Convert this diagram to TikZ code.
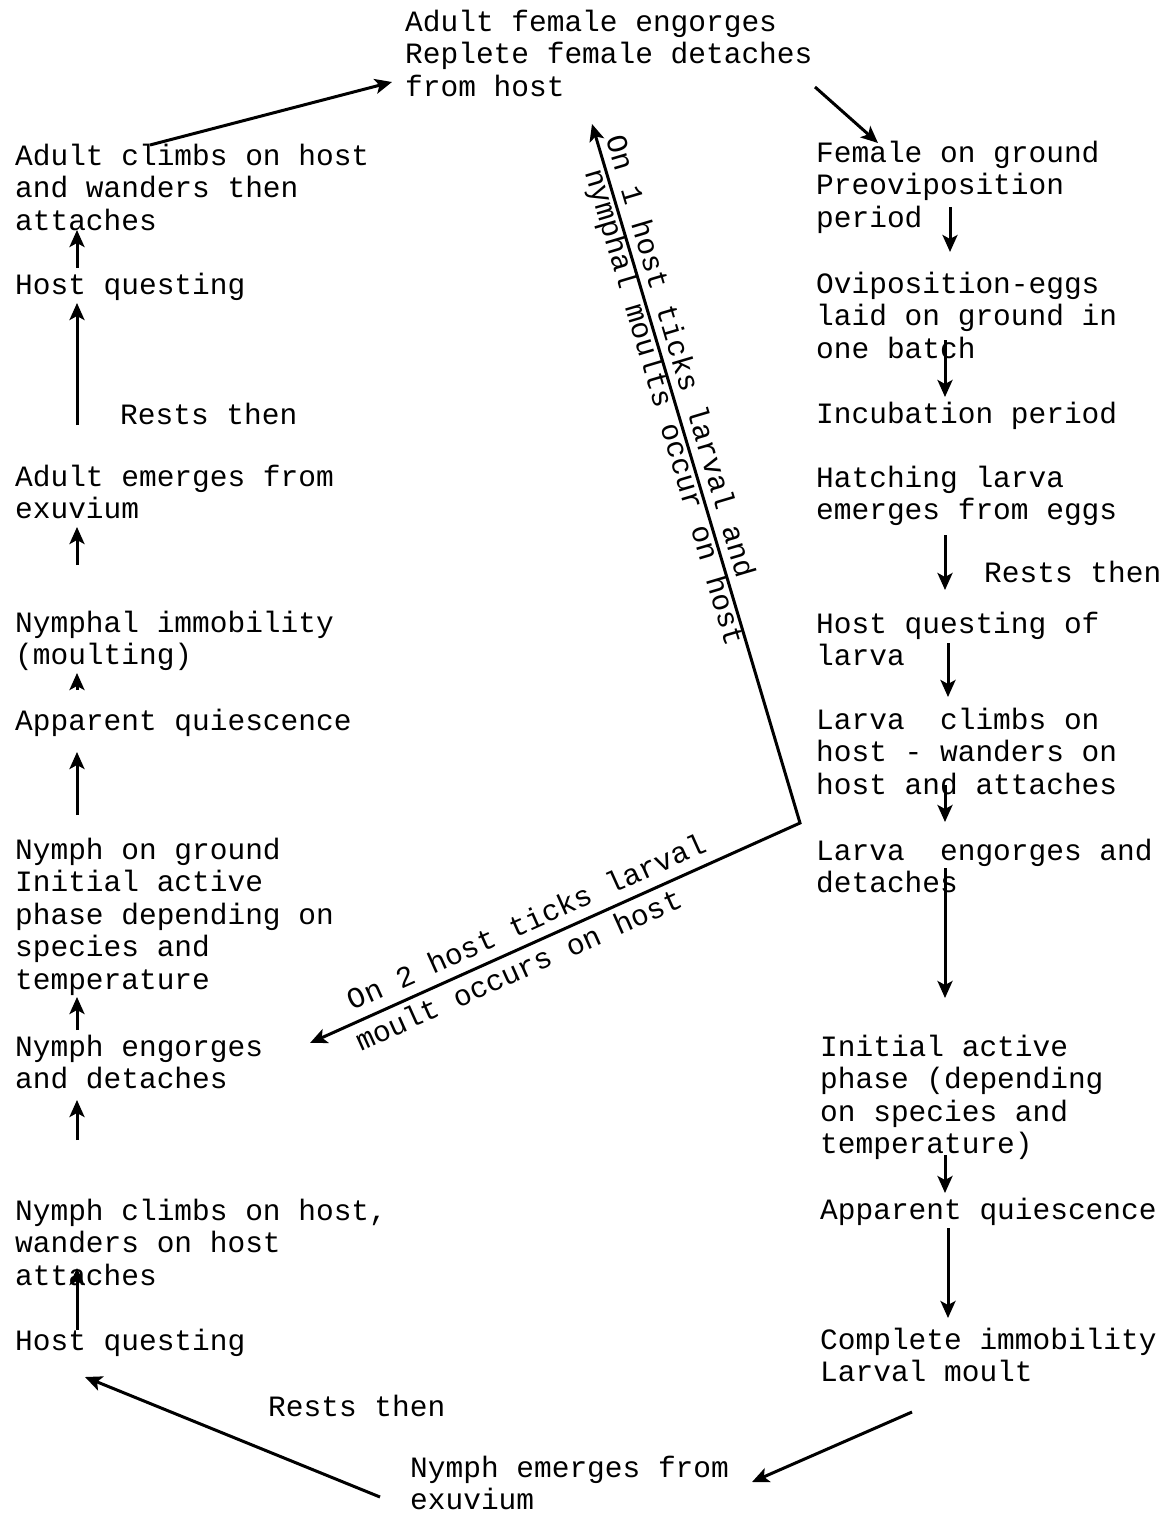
\documentclass[tikz,border=0pt]{standalone}
\usepackage{fontspec}
\setmainfont{Liberation Mono}[WordSpace={1,0,0}]
\usepackage{tikz}
\usetikzlibrary{arrows.meta}
\newcommand{\tw}{\fontsize{29.5}{32.6}\selectfont}
\newcommand{\lns}[1]{\begin{tabular}[t]{@{}l@{}}#1\end{tabular}}

\begin{document}
\begin{tikzpicture}[>={Stealth[length=17pt,width=15pt,inset=4pt]}, x=1pt, y=-1pt,
  every node/.style={anchor=base west, inner sep=0pt, font=\tw},
  arr/.style={->, line width=3pt}]
\useasboundingbox (0,0) rectangle (1164,1515);
% top
\node (top) at (405,31) {\lns{Adult female engorges\\Replete female detaches\\from host}};
% left column, read upwards
\node (lclimb) at (15,165) {\lns{Adult climbs on host\\and wanders then\\attaches}};
\node (lquest) at (15,294) {Host questing};
\node (lrest) at (120,424) {Rests then};
\node (lemerge) at (15,486) {\lns{Adult emerges from\\exuvium}};
\node (limmob) at (15,632) {\lns{Nymphal immobility\\(moulting)}};
\node (lquies) at (15,730) {Apparent quiescence};
\node (lground) at (15,859) {\lns{Nymph on ground\\Initial active\\phase depending on\\species and\\temperature}};
\node (lengorge) at (15,1056) {\lns{Nymph engorges\\and detaches}};
\node (lnclimb) at (15,1220) {\lns{Nymph climbs on host,\\wanders on host\\attaches}};
\node (lnquest) at (15,1350) {Host questing};
% bottom
\node (brest) at (268,1416) {Rests then};
\node (bemerge) at (410,1477) {\lns{Nymph emerges from\\exuvium}};
% right column, read downwards
\node (rground) at (816,162) {\lns{Female on ground\\Preoviposition\\period}};
\node (rovi) at (816,293) {\lns{Oviposition-eggs\\laid on ground in\\one batch}};
\node (rincub) at (816,423) {Incubation period};
\node (rhatch) at (816,487) {\lns{Hatching larva\\emerges from eggs}};
\node (rrest) at (984,582) {Rests then};
\node (rquest) at (816,633) {\lns{Host questing of\\larva}};
\node (rclimb) at (816,729) {\lns{Larva~~climbs on\\host - wanders on\\host and attaches}};
\node (rengorge) at (816,860) {\lns{Larva~~engorges and\\detaches}};
\node (ractive) at (820,1056) {\lns{Initial active\\phase (depending\\on species and\\temperature)}};
\node (rquies) at (820,1219) {Apparent quiescence};
\node (rimmob) at (820,1349) {\lns{Complete immobility\\Larval moult}};

% left column arrows
\draw[arr] ([shift={(62,-26)}]lquest.base west) -- ([shift={(62,65)}]lclimb.base west);
\draw[arr] ([shift={(62,-61)}]lemerge.base west) -- ([shift={(62,9)}]lquest.base west);
\draw[arr] ([shift={(62,-67)}]limmob.base west) -- ([shift={(62,41)}]lemerge.base west);
\draw[arr] ([shift={(62,-40)}]lquies.base west) -- ([shift={(62,41)}]limmob.base west);
\draw[arr] ([shift={(62,-44)}]lground.base west) -- ([shift={(62,22)}]lquies.base west);
\draw[arr] ([shift={(62,-26)}]lengorge.base west) -- ([shift={(62,138)}]lground.base west);
\draw[arr] ([shift={(62,-80)}]lnclimb.base west) -- ([shift={(62,44)}]lengorge.base west);
\draw[arr] ([shift={(62,-20)}]lnquest.base west) -- ([shift={(62,48)}]lnclimb.base west);
% right column arrows
\draw[arr] ([shift={(134,45)}]rground.base west) -- ([shift={(134,-41)}]rovi.base west);
\draw[arr] ([shift={(129,47)}]rovi.base west) -- ([shift={(129,-26)}]rincub.base west);
\draw[arr] ([shift={(129,48)}]rhatch.base west) -- ([shift={(129,-43)}]rquest.base west);
\draw[arr] ([shift={(132,10)}]rquest.base west) -- ([shift={(132,-32)}]rclimb.base west);
\draw[arr] ([shift={(129,56)}]rclimb.base west) -- ([shift={(129,-38)}]rengorge.base west);
\draw[arr] ([shift={(129,8)}]rengorge.base west) -- ([shift={(125,-58)}]ractive.base west);
\draw[arr] ([shift={(125,99)}]ractive.base west) -- ([shift={(125,-26)}]rquies.base west);
\draw[arr] ([shift={(128,9)}]rquies.base west) -- ([shift={(128,-31)}]rimmob.base west);
% round the cycle
\draw[arr] ([shift={(135,-20)}]lclimb.base west) -- ([shift={(-13,51)}]top.base west);
\draw[arr] ([shift={(410,56)}]top.base west) -- ([shift={(62,-19)}]rground.base west);
\draw[arr] ([shift={(92,63)}]rimmob.base west) -- ([shift={(342,5)}]bemerge.base west);
\draw[arr] ([shift={(-30,20)}]bemerge.base west) -- ([shift={(70,27)}]lnquest.base west);
% short cuts for 1 and 2 host ticks
\coordinate (bend) at (800,823);
\draw[<->, line width=3pt] ([shift={(187,93)}]top.base west)
  -- node[sloped, pos=0.34, above=7pt] {On 1 host ticks larval and}
     node[sloped, pos=0.40, below=-2pt] {nymphal moults occur on host} (bend)
  -- node[sloped, pos=0.54, above=10pt] {On 2 host ticks larval}
     node[sloped, pos=0.59, below=6pt] {moult occurs on host} ([shift={(295,-13)}]lengorge.base west);
\end{tikzpicture}
\end{document}
